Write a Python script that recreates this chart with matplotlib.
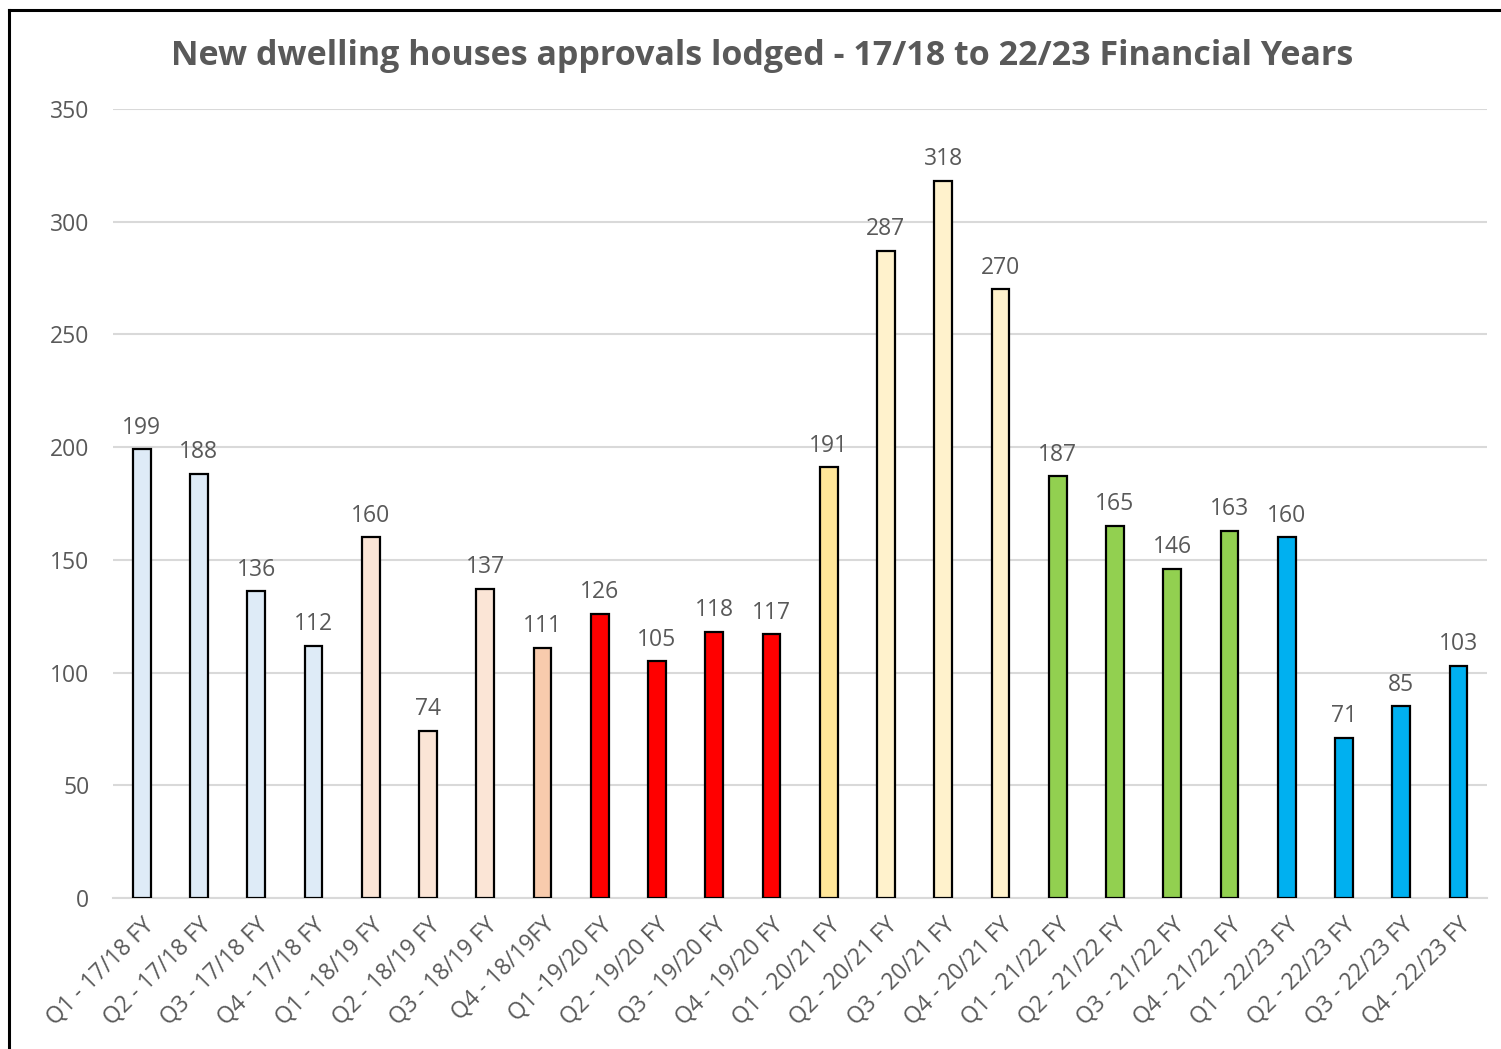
import matplotlib.pyplot as plt
from matplotlib.lines import Line2D

plt.rcParams['font.family'] = ['Open Sans', 'DejaVu Sans']

# quarters and approvals lodged
quarters = [
    "Q1 - 17/18 FY", "Q2 - 17/18 FY", "Q3 - 17/18 FY", "Q4 - 17/18 FY",
    "Q1 - 18/19 FY", "Q2 - 18/19 FY", "Q3 - 18/19 FY", "Q4 - 18/19FY",
    "Q1 -19/20 FY", "Q2 - 19/20 FY", "Q3 - 19/20 FY", "Q4 - 19/20 FY",
    "Q1 - 20/21 FY", "Q2 - 20/21 FY", "Q3 - 20/21 FY", "Q4 - 20/21 FY",
    "Q1 - 21/22 FY", "Q2 - 21/22 FY", "Q3 - 21/22 FY", "Q4 - 21/22 FY",
    "Q1 - 22/23 FY", "Q2 - 22/23 FY", "Q3 - 22/23 FY", "Q4 - 22/23 FY",
]
approvals = [199, 188, 136, 112, 160, 74, 137, 111,
             126, 105, 118, 117, 191, 287, 318, 270,
             187, 165, 146, 163, 160, 71, 85, 103]
bar_colors = ["#DEEBF7"] * 4 + ["#FBE5D6"] * 3 + ["#F8CBAD"] \
    + ["#FF0000"] * 4 + ["#FFE699"] + ["#FFF2CC"] * 3 \
    + ["#92D050"] * 4 + ["#00B0F0"] * 4

text_color = "#595959"
grid_color = "#D9D9D9"

fig = plt.figure(figsize=(15.01, 10.49), dpi=100)
ax = fig.add_axes([0.0753, 0.1439, 0.9154, 0.7522])

x = range(len(quarters))
bars = ax.bar(x, approvals, width=0.31, color=bar_colors,
              edgecolor="black", linewidth=1.6, zorder=3)

for rect, val in zip(bars, approvals):
    ax.annotate(str(val), (rect.get_x() + rect.get_width() / 2, val),
                xytext=(0, 7), textcoords="offset points",
                ha="center", va="bottom", fontsize=16.5, color=text_color)

ax.set_xlim(-0.5, len(quarters) - 0.5)
ax.set_ylim(0, 350)
ax.set_yticks(range(0, 351, 50))
ax.grid(axis="y", color=grid_color, linewidth=1.5, zorder=0)
for side in ["top", "right", "left"]:
    ax.spines[side].set_visible(False)
ax.spines["bottom"].set_color(grid_color)
ax.spines["bottom"].set_linewidth(1.5)
ax.tick_params(length=0, colors=text_color, labelsize=16.5)
ax.tick_params(axis="y", pad=17)
ax.set_xticks(list(x))
ax.set_xticklabels(quarters, rotation=45, ha="right", va="top",
                   rotation_mode="anchor")
ax.tick_params(axis="x", pad=11)

fig.text(0.508, 0.947, "New dwelling houses approvals lodged - 17/18 to 22/23 Financial Years",
         ha="center", va="center", fontsize=24.5, fontweight="bold", color=text_color)

# outer frame (top and left edges only visible)
fig.add_artist(Line2D([0.006, 1.0], [0.9905, 0.9905], color="black", linewidth=2.2))
fig.add_artist(Line2D([0.006, 0.006], [0.0, 0.9905], color="black", linewidth=2.2))

fig.savefig("out.png", dpi=100)
